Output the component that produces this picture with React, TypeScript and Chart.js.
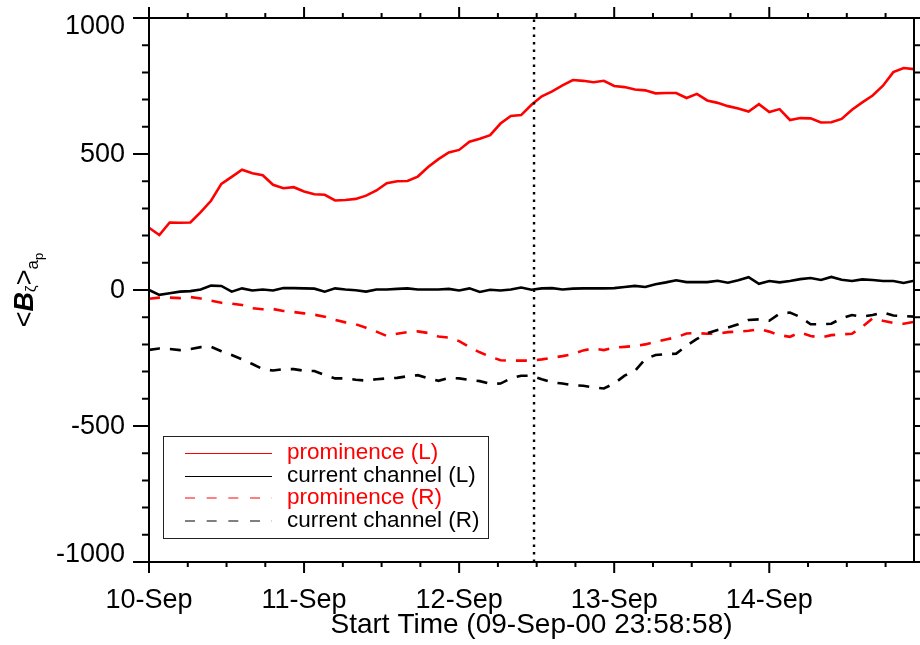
import React, { useEffect, useRef } from 'react';
import { Chart, registerables } from 'chart.js';

Chart.register(...registerables);

// ---- data (96-minute cadence, days since 09-Sep-00 23:58:58) ----
const CADENCE_DAYS = 96 / 1440;

const PROM_L = [
  229, 202, 248, 247, 248, 286, 328, 390, 416, 442,
  429, 422, 387, 374, 378, 362, 352, 350, 329, 331,
  335, 347, 366, 393, 400, 401, 417, 452, 481, 506,
  515, 545, 556, 569, 612, 640, 643, 681, 712, 730,
  752, 772, 769, 764, 769, 750, 746, 737, 734, 723,
  724, 724, 706, 721, 697, 688, 676, 667, 656, 683,
  654, 665, 625, 632, 631, 616, 617, 629, 663, 690,
  715, 751, 801, 816, 812,
];

const CC_L = [
  0, -18, -12, -6, -4, 2, 16, 15, -6, 6,
  -2, 2, -2, 7, 7, 6, 5, -6, 6, 2,
  -1, -6, 2, 2, 4, 6, 2, 2, 2, 4,
  -2, 6, -7, 1, -2, 2, 9, 1, 6, 7,
  2, 5, 6, 6, 6, 7, 11, 15, 11, 21,
  28, 36, 29, 29, 29, 34, 27, 36, 47, 23,
  33, 28, 33, 40, 44, 37, 48, 38, 33, 39,
  37, 33, 33, 26, 34,
];

const PROM_R = [
  -32, -28, -28, -30, -26, -31, -39, -47, -50, -55,
  -67, -71, -70, -77, -81, -86, -91, -98, -110, -119,
  -126, -139, -153, -169, -161, -155, -152, -158, -171, -175,
  -188, -210, -229, -245, -258, -260, -259, -260, -255, -249,
  -243, -236, -222, -215, -221, -212, -209, -206, -200, -191,
  -182, -174, -160, -158, -161, -161, -155, -153, -150, -144,
  -153, -166, -172, -156, -169, -175, -166, -163, -161, -135,
  -104, -113, -121, -124, -117,
];

const CC_R = [
  -220, -215, -217, -221, -217, -210, -209, -225, -239, -255,
  -272, -291, -296, -291, -291, -297, -298, -313, -325, -325,
  -330, -333, -328, -325, -323, -317, -313, -325, -334, -323,
  -325, -331, -335, -345, -344, -325, -315, -315, -328, -340,
  -344, -350, -352, -358, -362, -344, -315, -298, -254, -239,
  -236, -234, -205, -180, -159, -147, -138, -126, -110, -108,
  -113, -87, -83, -99, -126, -126, -124, -104, -92, -98,
  -92, -82, -94, -96, -98,
];

const SERIES_LABELS = ['prominence (L)', 'current channel (L)', 'prominence (R)', 'current channel (R)'];
const X_TICK_DAYS = [0, 1, 2, 3, 4];
const X_TICK_LABELS = ['10-Sep', '11-Sep', '12-Sep', '13-Sep', '14-Sep'];
const X_MINOR_STEP = 0.25;
const X_MAX = 74 / 15;
const Y_TICKS = [-1000, -500, 0, 500, 1000];
const Y_MINOR_STEP = 100;
const MARKER_DAY = 2.483;
const X_TITLE = 'Start Time (09-Sep-00 23:58:58)';

const FONT = '"Liberation Sans", Arial, Helvetica, sans-serif';

const toPoints = (vals: number[]) => vals.map((v, i) => ({ x: i * CADENCE_DAYS, y: v }));

const framePlugin = {
  id: 'frame',
  afterDatasetsDraw(chart: any) {
    const { ctx, chartArea: a, scales } = chart;
    const xs = scales.x;
    const ys = scales.y;
    ctx.save();
    ctx.strokeStyle = '#000';
    ctx.lineWidth = 2;
    ctx.lineCap = 'butt';
    ctx.strokeRect(a.left, a.top, a.right - a.left, a.bottom - a.top);
    ctx.beginPath();
    const nx = Math.floor(X_MAX / X_MINOR_STEP + 1e-6);
    for (let k = 0; k <= nx; k++) {
      const d = k * X_MINOR_STEP;
      const px = xs.getPixelForValue(d);
      const major = X_TICK_DAYS.includes(d);
      const len = major ? 11 : 5;
      ctx.moveTo(px, a.bottom);
      ctx.lineTo(px, a.bottom + len);
      ctx.moveTo(px, a.top);
      ctx.lineTo(px, a.top - len);
    }
    const ymin = Y_TICKS[0];
    const ymax = Y_TICKS[Y_TICKS.length - 1];
    for (let v = ymin; v <= ymax; v += Y_MINOR_STEP) {
      const py = ys.getPixelForValue(v);
      const major = Y_TICKS.includes(v);
      const len = major ? 16 : 7;
      ctx.moveTo(a.left, py);
      ctx.lineTo(a.left - len, py);
      ctx.moveTo(a.right, py);
      ctx.lineTo(a.right + len, py);
    }
    ctx.stroke();

    // y tick labels
    ctx.fillStyle = '#000';
    ctx.font = `27px ${FONT}`;
    ctx.textAlign = 'right';
    ctx.textBaseline = 'middle';
    Y_TICKS.forEach((v) => {
      let py = ys.getPixelForValue(v);
      if (v === ymax) py += 8;
      if (v === ymin) py -= 8;
      ctx.fillText(String(v), a.left - 24, py + 1);
    });
    ctx.restore();
  },
  afterDraw(chart: any) {
    const { ctx, chartArea: a } = chart;
    // y axis title  <B_ζ>_{a_p}
    ctx.save();
    ctx.translate(33, (a.top + a.bottom) / 2);
    ctx.rotate(-Math.PI / 2);
    ctx.fillStyle = '#000';
    ctx.textBaseline = 'alphabetic';
    const parts = [
      { t: '<', f: `27px ${FONT}`, dy: 0 },
      { t: 'B', f: `italic bold 27px ${FONT}`, dy: 0 },
      { t: 'ζ', f: `15px ${FONT}`, dy: 3 },
      { t: '>', f: `27px ${FONT}`, dy: 0 },
      { t: 'a', f: `17px ${FONT}`, dy: 5 },
      { t: 'p', f: `13px ${FONT}`, dy: 10 },
    ];
    let total = 0;
    parts.forEach((p) => {
      ctx.font = p.f;
      total += ctx.measureText(p.t).width;
    });
    let x = -total / 2;
    parts.forEach((p) => {
      ctx.font = p.f;
      ctx.fillText(p.t, x, p.dy);
      x += ctx.measureText(p.t).width;
    });
    ctx.restore();

    // legend box
    ctx.save();
    ctx.strokeStyle = '#222';
    ctx.lineWidth = 1;
    ctx.strokeRect(163.5, 436.5, 325, 102);
    const ds = chart.data.datasets.slice(0, 4);
    ctx.font = `22.5px ${FONT}`;
    ctx.textAlign = 'left';
    ctx.textBaseline = 'middle';
    ds.forEach((d: any, i: number) => {
      const y = 453 + i * 22.6;
      const dashed = d.borderDash && d.borderDash.length > 0;
      ctx.beginPath();
      ctx.strokeStyle = d.borderColor;
      ctx.lineWidth = 1;
      ctx.setLineDash(dashed ? [10, 11.67] : []);
      const yy = dashed ? Math.round(y) : Math.round(y) + 0.5;
      ctx.moveTo(185, yy);
      ctx.lineTo(272, yy);
      ctx.stroke();
      ctx.setLineDash([]);
      ctx.fillStyle = d.borderColor;
      ctx.fillText(d.label, 287, y);
    });
    ctx.restore();
  },
};

export default function App() {
  const ref = useRef<HTMLCanvasElement | null>(null);
  useEffect(() => {
    if (!ref.current) return;
    Chart.defaults.font.family = FONT;
    Chart.defaults.color = '#000';
    const base = { showLine: true, pointRadius: 0, borderWidth: 2.6, tension: 0, fill: false };
    const chart = new Chart(ref.current, {
      type: 'scatter',
      data: {
        datasets: [
          { ...base, label: SERIES_LABELS[0], data: toPoints(PROM_L), borderColor: '#ff0000', backgroundColor: '#ff0000', order: 4 },
          { ...base, label: SERIES_LABELS[1], data: toPoints(CC_L), borderColor: '#000000', backgroundColor: '#000000', order: 3 },
          { ...base, label: SERIES_LABELS[2], data: toPoints(PROM_R), borderColor: '#ff0000', backgroundColor: '#ff0000', borderDash: [11, 10], order: 2 },
          { ...base, label: SERIES_LABELS[3], data: toPoints(CC_R), borderColor: '#000000', backgroundColor: '#000000', borderDash: [11, 10], order: 1 },
          { ...base, borderWidth: 2.4, label: 'marker', data: [{ x: MARKER_DAY, y: Y_TICKS[0] }, { x: MARKER_DAY, y: Y_TICKS[Y_TICKS.length - 1] }], borderColor: '#000000', backgroundColor: '#000000', borderDash: [2.4, 5.1], order: 0 },
        ],
      } as any,
      options: {
        responsive: false,
        animation: false,
        devicePixelRatio: 1,
        layout: { padding: { top: 18, right: 6, left: 0, bottom: 0 } },
        plugins: { legend: { display: false }, tooltip: { enabled: false }, title: { display: false } },
        scales: {
          x: {
            type: 'linear',
            min: 0,
            max: X_MAX,
            grid: { display: false, drawTicks: false },
            border: { display: false },
            afterBuildTicks: (s: any) => {
              s.ticks = X_TICK_DAYS.map((v) => ({ value: v }));
            },
            ticks: {
              callback: (_v: any, i: number) => X_TICK_LABELS[i] ?? '',
              font: { size: 27 },
              color: '#000',
              padding: 22,
              maxRotation: 0,
              autoSkip: false,
            },
            title: { display: true, text: X_TITLE, font: { size: 28 }, color: '#000', padding: { top: 0, bottom: 3 } },
            afterFit: (s: any) => {
              s.height = 83;
            },
          },
          y: {
            type: 'linear',
            min: Y_TICKS[0],
            max: Y_TICKS[Y_TICKS.length - 1],
            grid: { display: false, drawTicks: false },
            border: { display: false },
            ticks: { display: false },
            afterFit: (s: any) => {
              s.width = 149;
            },
          },
        },
      } as any,
      plugins: [framePlugin],
    });
    return () => chart.destroy();
  }, []);
  return (
    <div style={{ position: 'absolute', left: 0, top: 0, width: 920, height: 645, background: '#fff' }}>
      <canvas ref={ref} width={920} height={645} style={{ width: 920, height: 645, display: 'block' }} />
    </div>
  );
}
